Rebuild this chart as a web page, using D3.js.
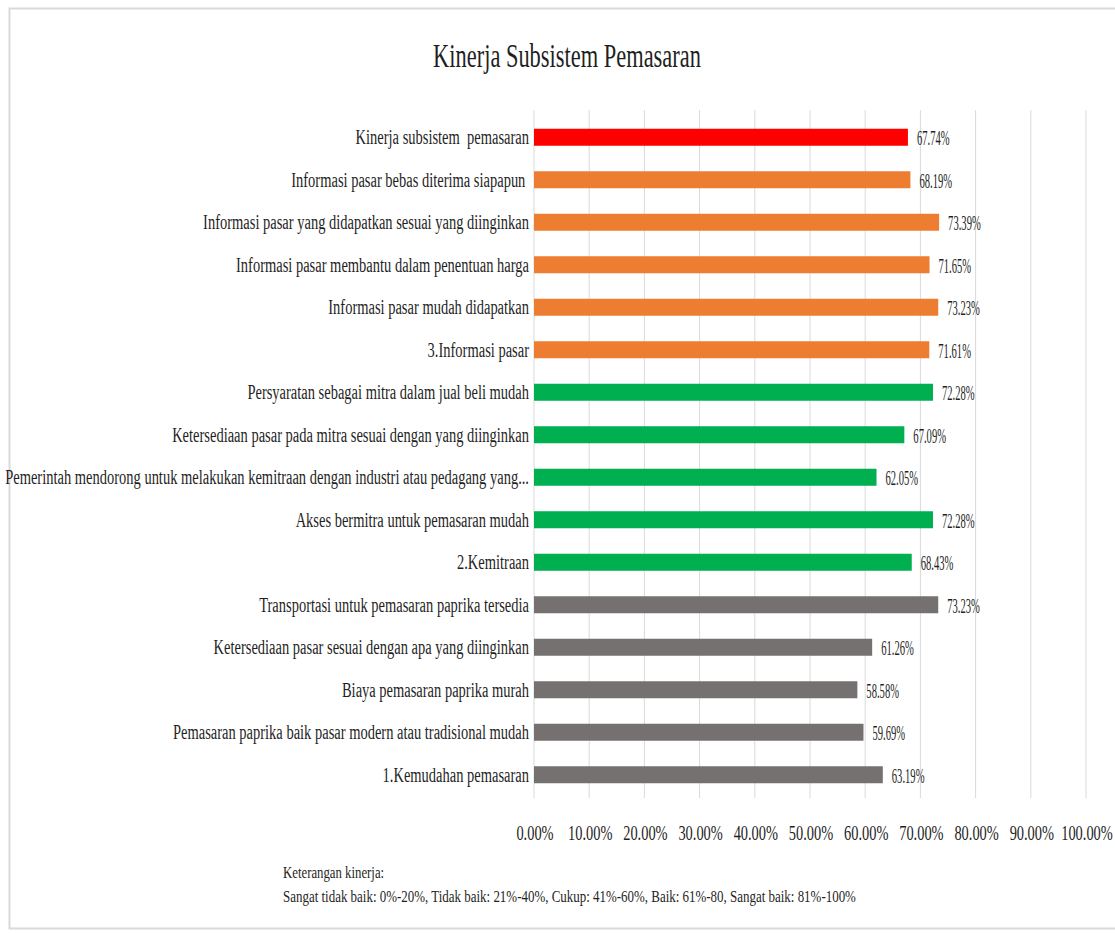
<!DOCTYPE html>
<html>
<head>
<meta charset="utf-8">
<script src="https://cdn.jsdelivr.net/npm/d3@7"></script>
<style>
body { margin: 0; background: #fff; }
text { font-family: "Liberation Serif", "Times New Roman", serif; fill: #1f1f1f; white-space: pre; }
</style>
</head>
<body>
<svg width="1115" height="933"></svg>
<script>
categories = [
    'Kinerja subsistem  pemasaran',
    'Informasi pasar bebas diterima siapapun ',
    'Informasi pasar yang didapatkan sesuai yang diinginkan',
    'Informasi pasar membantu dalam penentuan harga',
    'Informasi pasar mudah didapatkan',
    '3.Informasi pasar',
    'Persyaratan sebagai mitra dalam jual beli mudah',
    'Ketersediaan pasar pada mitra sesuai dengan yang diinginkan',
    'Pemerintah mendorong untuk melakukan kemitraan dengan industri atau pedagang yang...',
    'Akses bermitra untuk pemasaran mudah',
    '2.Kemitraan',
    'Transportasi untuk pemasaran paprika tersedia',
    'Ketersediaan pasar sesuai dengan apa yang diinginkan',
    'Biaya pemasaran paprika murah',
    'Pemasaran paprika baik pasar modern atau tradisional mudah',
    '1.Kemudahan pemasaran'
]
values = [67.74, 68.19, 73.39, 71.65, 73.23, 71.61, 72.28, 67.09, 62.05, 72.28, 68.43, 73.23, 61.26, 58.58, 59.69, 63.19]
groups = ['total', 'info', 'info', 'info', 'info', 'info', 'mitra', 'mitra', 'mitra', 'mitra', 'mitra', 'mudah', 'mudah', 'mudah', 'mudah', 'mudah']
groupColors = {total: '#ff0000', info: '#ed7d31', mitra: '#00b050', mudah: '#767171'}
ticks = [0, 10, 20, 30, 40, 50, 60, 70, 80, 90, 100]
notes = [
    'Keterangan kinerja:',
    'Sangat tidak baik: 0%-20%, Tidak baik: 21%-40%, Cukup: 41%-60%, Baik: 61%-80, Sangat baik: 81%-100%'
]

data = categories.map((c, i) => ({name: c, value: values[i], group: groups[i]}))

let svg = d3.select('svg')

// outer frame
svg.append('rect')
    .attr('x', 9.5).attr('y', 8.5)
    .attr('width', 1120).attr('height', 920)
    .style('fill', 'none')
    .style('stroke', '#d9d9d9')
    .style('stroke-width', 2)

let x = d3.scaleLinear().domain([0, 100]).range([534, 1086])
let y = d3.scaleBand().domain(categories).range([116, 796]).paddingInner(0.6).paddingOuter(0.3)

// squeezed serif text like the original picture
function ctext(g, tx, ty, str, size, sx, anchor) {
    return g.append('text')
        .attr('transform', `translate(${tx},${ty}) scale(${sx},1)`)
        .attr('text-anchor', anchor)
        .attr('font-size', size)
        .text(str)
}

let grid = svg.append('g')
grid.selectAll('line').data(ticks).enter().append('line')
    .attr('x1', d => x(d)).attr('x2', d => x(d))
    .attr('y1', 110).attr('y2', 798)
    .style('stroke', '#d9d9d9')
    .style('stroke-width', 1)

let tickG = svg.append('g')
ticks.forEach(t => ctext(tickG, x(t) + 1, 840, d3.format('.2f')(t) + '%', 20, 0.72, 'middle'))

let bars = svg.append('g')
bars.selectAll('rect').data(data).enter().append('rect')
    .attr('x', x(0))
    .attr('y', d => y(d.name))
    .attr('width', d => x(d.value) - x(0))
    .attr('height', y.bandwidth())
    .style('fill', d => groupColors[d.group])

let labels = svg.append('g')
data.forEach(d => {
    let cy = y(d.name) + y.bandwidth() / 2
    ctext(labels, 529, cy + 7, d.name, 20, 0.725, 'end')
    ctext(labels, x(d.value) + 9, cy + 8, d3.format('.2f')(d.value) + '%', 20, 0.53, 'start')
})

ctext(svg, 567, 67, 'Kinerja Subsistem Pemasaran', 33, 0.68, 'middle')

ctext(svg, 283, 878, notes[0], 16, 0.8, 'start')
ctext(svg, 283, 902, notes[1], 16, 0.81, 'start')
</script>
</body>
</html>
